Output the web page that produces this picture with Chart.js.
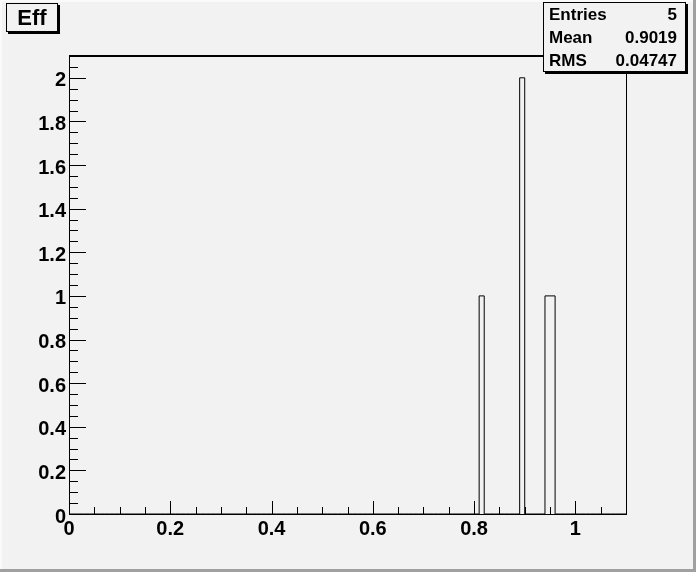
<!DOCTYPE html>
<html>
<head>
<meta charset="utf-8">
<script src="https://cdn.jsdelivr.net/npm/chart.js@4/dist/chart.umd.min.js"></script>
<style>
  html, body { margin: 0; padding: 0; background: #f2f2f2; }
  #wrap { position: relative; width: 696px; height: 572px; background: #f2f2f2; overflow: hidden;
          font-family: "Liberation Sans", Arial, Helvetica, sans-serif; font-weight: bold; color: #000; }
  #c { position: absolute; left: 0; top: 0; }
  .bev { position: absolute; }
  #title { position: absolute; left: 6px; top: 3px; width: 52px; height: 29px; box-sizing: border-box;
           border: 1px solid #000; box-shadow: 2px 2px 0 #000; background: #f2f2f2;
           font-size: 22px; line-height: 27px; text-align: center; }
  #stats { position: absolute; left: 543px; top: 2px; width: 143px; height: 70px; box-sizing: border-box;
           border: 1px solid #000; box-shadow: 2px 2px 0 #000; background: #f2f2f2; font-size: 17px; }
  .row { height: 23px; line-height: 23px; padding: 0 8px 0 5px; display: flex; justify-content: space-between; }
</style>
</head>
<body>
<div id="wrap">
  <canvas id="c" width="696" height="572"></canvas>
  <div class="bev" style="left:0;top:0;width:696px;height:2px;background:#fafafa"></div>
  <div class="bev" style="left:0;top:0;width:2px;height:572px;background:#fafafa"></div>
  <div class="bev" style="left:693px;top:0;width:3px;height:572px;background:#a0a0a0"></div>
  <div class="bev" style="left:0;top:569px;width:696px;height:3px;background:#a0a0a0"></div>
  <div id="title">Eff</div>
  <div id="stats"></div>
</div>
<script>
// ---- data ----
const histTitle = "Eff";
const xMin = 0;
const xMax = 1.1;
const nBins = 110;
const counts = [
  0,0,0,0,0,0,0,0,0,0,
  0,0,0,0,0,0,0,0,0,0,
  0,0,0,0,0,0,0,0,0,0,
  0,0,0,0,0,0,0,0,0,0,
  0,0,0,0,0,0,0,0,0,0,
  0,0,0,0,0,0,0,0,0,0,
  0,0,0,0,0,0,0,0,0,0,
  0,0,0,0,0,0,0,0,0,0,
  0,1,0,0,0,0,0,0,0,2,
  0,0,0,0,1,1,0,0,0,0,
  0,0,0,0,0,0,0,0,0,0
];
const statLabels = ["Entries", "Mean", "RMS"];
const statValues = ["5", "0.9019", "0.04747"];
const yMax = 2.1;
const xTickStep = 0.2;
const yTickStep = 0.2;
const minorStep = 0.05;

// ---- text boxes ----
document.getElementById('title').textContent = histTitle;
const statsEl = document.getElementById('stats');
statLabels.forEach((l, i) => {
  const r = document.createElement('div');
  r.className = 'row';
  const a = document.createElement('span'); a.textContent = l;
  const b = document.createElement('span'); b.textContent = statValues[i];
  r.appendChild(a); r.appendChild(b);
  statsEl.appendChild(r);
});

// ---- histogram outline points (bin low edges + final edge) ----
const binW = (xMax - xMin) / nBins;
const pts = counts.map((v, i) => ({ x: xMin + i * binW, y: v }));
pts.push({ x: xMax, y: counts[counts.length - 1] });

const fontSpec = { family: '"Liberation Sans", Arial, Helvetica, sans-serif', size: 20, weight: 'bold' };
const fmt = v => String(+Number(v).toFixed(2));

const rootFrame = {
  id: 'rootFrame',
  afterDatasetsDraw(chart) {
    const ctx = chart.ctx;
    const a = chart.chartArea;
    const xs = chart.scales.x, ys = chart.scales.y;
    ctx.save();
    ctx.strokeStyle = '#000';
    ctx.lineWidth = 1;
    // frame
    ctx.strokeRect(Math.round(a.left) + 0.5, Math.round(a.top) + 0.5,
                   Math.round(a.right - a.left), Math.round(a.bottom - a.top));
    // thicker top edge
    ctx.beginPath();
    ctx.moveTo(Math.round(a.left), Math.round(a.top) - 0.5);
    ctx.lineTo(Math.round(a.right) + 1, Math.round(a.top) - 0.5);
    ctx.stroke();
    ctx.beginPath();
    // x ticks (inside, pointing up)
    const nx = Math.round((xMax - xMin) / minorStep);
    for (let k = 0; k <= nx; k++) {
      const v = xMin + k * minorStep;
      const major = Math.abs(v / xTickStep - Math.round(v / xTickStep)) < 1e-6;
      const px = Math.round(xs.getPixelForValue(v)) + 0.5;
      const len = major ? 13 : 7;
      ctx.moveTo(px, a.bottom);
      ctx.lineTo(px, a.bottom - len);
    }
    // y ticks (inside, pointing right)
    const ny = Math.round(yMax / minorStep);
    for (let k = 0; k <= ny; k++) {
      const v = k * minorStep;
      const major = Math.abs(v / yTickStep - Math.round(v / yTickStep)) < 1e-6;
      const py = Math.round(ys.getPixelForValue(v)) + 0.5;
      const len = major ? 17 : 9;
      ctx.moveTo(a.left, py);
      ctx.lineTo(a.left + len, py);
    }
    ctx.stroke();
    ctx.restore();
  }
};

new Chart(document.getElementById('c'), {
  type: 'line',
  data: {
    datasets: [{
      data: pts,
      stepped: true,
      borderColor: '#000',
      borderWidth: 1,
      pointRadius: 0,
      fill: false,
      tension: 0
    }]
  },
  options: {
    responsive: false,
    animation: false,
    devicePixelRatio: 1,
    layout: { padding: { left: 0, right: 70, top: 56, bottom: 0 } },
    plugins: { legend: { display: false }, tooltip: { enabled: false } },
    scales: {
      x: {
        type: 'linear', min: xMin, max: xMax,
        afterFit(s) { s.height = 58; },
        grid: { display: false, drawTicks: false },
        border: { display: false },
        ticks: { stepSize: xTickStep, includeBounds: false, autoSkip: false, maxRotation: 0,
                 color: '#000', font: fontSpec, padding: 3, callback: fmt }
      },
      y: {
        type: 'linear', min: 0, max: yMax,
        afterFit(s) { s.width = 69; },
        grid: { display: false, drawTicks: false },
        border: { display: false },
        ticks: { stepSize: yTickStep, includeBounds: false, autoSkip: false, labelOffset: 3,
                 color: '#000', font: fontSpec, padding: 3, callback: fmt }
      }
    }
  },
  plugins: [rootFrame]
});
</script>
</body>
</html>
